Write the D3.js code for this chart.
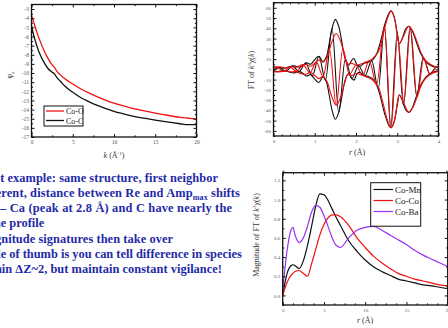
<!DOCTYPE html>
<html>
<head>
<meta charset="utf-8">
<script src="https://cdn.jsdelivr.net/npm/d3@7"></script>
<style>
  html, body { margin: 0; padding: 0; background: #fff; }
  svg { display: block; }
</style>
</head>
<body>
<svg id="chart" width="448" height="328"></svg>
<script>
// ---- panel 1: phase vs k ----
const kVals   = [0, 0.25, 0.5, 0.75, 1, 1.5, 2, 2.5, 2.8, 3, 3.5, 4, 5, 6, 7, 8, 10, 12, 14, 16, 18, 19, 20];
const phaseCoO = [-3.7, -4.4, -5.1, -5.8, -6.4, -7.5, -8.4, -9.1, -9.4, -9.7, -10.2, -10.6, -11.2, -11.75, -12.2, -12.6, -13.3, -13.8, -14.2, -14.55, -14.85, -14.95, -15.05];
const phaseCoC = [-4.8, -5.8, -6.6, -7.3, -7.9, -8.8, -9.5, -9.9, -10.1, -10.4, -10.9, -11.4, -12.1, -12.7, -13.15, -13.55, -14.2, -14.65, -15.0, -15.3, -15.55, -15.65, -15.65];
const phaseNames = ["Co-O", "Co-C"];

// ---- panel 2: FT magnitude envelope and real part ----
const rEnvBlack = [0, 0.12, 0.25, 0.4, 0.5, 0.62, 0.7, 0.8, 0.9, 1.0, 1.1, 1.2, 1.28, 1.35, 1.42, 1.5, 1.58, 1.66, 1.74, 1.82, 1.9, 1.95, 2.03, 2.1, 2.2, 2.3, 2.4, 2.5, 2.6, 2.7, 2.8, 2.85, 2.92, 3.0, 3.05, 3.12, 3.2, 3.28, 3.36, 3.45, 3.55, 3.65, 3.75, 3.85, 3.95, 4.0];
const envBlack  = [2.5, 1.8, 1.2, 2.8, 3.4, 2.2, 3.5, 6.5, 5.0, 9.5, 12.8, 7.5, 12, 25, 40, 48.7, 42, 26, 10, 4, 9, 10.5, 4, 3, 6, 7, 9, 15, 28, 44, 55, 57, 52, 35, 25, 30, 39, 42, 38, 28, 17, 10, 5.5, 3, 2, 2];
const rEnvRed   = [0, 0.15, 0.3, 0.45, 0.55, 0.65, 0.78, 0.9, 1.0, 1.1, 1.2, 1.3, 1.4, 1.52, 1.62, 1.72, 1.8, 1.9, 2.0, 2.1, 2.2, 2.35, 2.45, 2.55, 2.65, 2.75, 2.85, 2.93, 3.0, 3.05, 3.15, 3.28, 3.38, 3.48, 3.58, 3.68, 3.8, 3.9, 4.0];
const envRed    = [2, 2.5, 1.5, 2.5, 2, 4, 4.8, 3, 6, 9, 7, 12, 25, 35, 28, 14, 5, 6, 4, 5, 6.5, 9, 12.4, 18, 32, 48, 57, 50, 33, 25, 32, 42, 37, 27, 16, 9, 5, 3, 2];
const rReBlack  = [0, 0.14, 0.30, 0.46, 0.62, 0.78, 0.94, 1.10, 1.26, 1.42, 1.58, 1.74, 1.90, 2.06, 2.22, 2.38, 2.54, 2.69, 2.84, 3.00, 3.15, 3.31, 3.47, 3.63, 3.79, 3.95, 4.0];
const reBlack   = [-1.5, 1.7, -1.7, 3.2, -2.3, 6.2, -6.8, 12.5, -10.5, 40, -42, 10, -9, 3.5, -6, 8.5, -19, 42, -56.5, 35, -35, 41, -26, 11.5, -4.5, 2, 1];
const rReRed    = [0, 0.08, 0.24, 0.40, 0.56, 0.72, 0.88, 1.04, 1.20, 1.36, 1.52, 1.68, 1.84, 2.00, 2.16, 2.32, 2.50, 2.69, 2.85, 3.01, 3.16, 3.32, 3.48, 3.64, 3.80, 3.96, 4.0];
const reRed     = [-1, 2.2, -1.8, 2.2, -2.0, 4.3, -3.3, 7, -7, 19, -35, 20, -5, 4, -6, 8.5, -15, 42, -57, 33, -32, 40, -27, 10, -5, 2.5, 1.5];

// ---- panel 3: magnitude of FT ----
const rMag  = [0, 0.5, 1, 1.25, 1.5, 2, 2.5, 3, 3.5, 4, 4.5, 5, 5.5, 6, 6.5, 7, 8, 9, 10, 11, 12, 13, 14, 15, 16, 17, 18, 19, 20];
const magCoMn = [0.0, 0.22, 0.31, 0.32, 0.31, 0.28, 0.36, 0.52, 0.72, 0.93, 1.06, 1.05, 0.99, 0.9, 0.81, 0.73, 0.57, 0.46, 0.37, 0.30, 0.25, 0.21, 0.17, 0.15, 0.13, 0.11, 0.10, 0.085, 0.07];
const magCoCo = [0.0, 0.13, 0.21, 0.23, 0.25, 0.26, 0.23, 0.2, 0.33, 0.48, 0.63, 0.74, 0.81, 0.84, 0.84, 0.82, 0.73, 0.6, 0.5, 0.41, 0.34, 0.28, 0.23, 0.2, 0.17, 0.15, 0.13, 0.11, 0.1];
const magCoBa = [0.05, 0.45, 0.68, 0.71, 0.63, 0.55, 0.6, 0.72, 0.87, 0.94, 0.92, 0.83, 0.72, 0.6, 0.52, 0.5, 0.6, 0.68, 0.71, 0.72, 0.68, 0.63, 0.58, 0.53, 0.47, 0.42, 0.38, 0.34, 0.3];
const magNames = ["Co-Mn", "Co-Co", "Co-Ba"];

// ---- slide text (hidden prefix, visible part[, subscript, tail]) ----
const noteLines = [
  ["Last ", "example: same structure, first neighbor"],
  ["diffe", "rent, distance between Re and Amp", "max", " shifts"],
  ["\u2013 ", "Ca (peak at 2.8 \u00C5) and C have nearly the"],
  ["same ", "profile"],
  ["Mag", "nitude signatures then take over"],
  ["Rule ", "of thumb is you can tell difference in species"],
  ["with", "in \u0394Z~2, but maintain constant vigilance!"]
];
const noteStart = [7.3, 0.7, 9.3, 9.3, 1, 9.3, 1.7];
const noteEnd   = [218, 240, 232, 42, 173, 242, 222];

const svg = d3.select("#chart");
svg.append("rect").attr("width", 448).attr("height", 328).attr("fill", "#fff");

const SERIF = "'Liberation Serif', 'Times New Roman', serif";

function frameAxes(g, x, y, o) {
  const [xa, xb] = x.range(), [yb, ya] = y.range();
  const tickFont = sel => sel.selectAll("text")
    .attr("font-size", o.fs || 5.5).attr("font-family", SERIF).attr("fill", "#555");

  const layers = [
    [d3.axisBottom(x).tickValues(o.xTicks).tickSize(-3).tickPadding(3).tickFormat(o.xFmt), `translate(0,${yb})`, true],
    [d3.axisBottom(x).tickValues(o.xMinor).tickSize(-1.6).tickFormat(""), `translate(0,${yb})`],
    [d3.axisTop(x).tickValues(o.xTicks).tickSize(-3).tickFormat(""), `translate(0,${ya})`],
    [d3.axisTop(x).tickValues(o.xMinor).tickSize(-1.6).tickFormat(""), `translate(0,${ya})`],
    [d3.axisLeft(y).tickValues(o.yTicks).tickSize(-3).tickPadding(2.5).tickFormat(o.yFmt), `translate(${xa},0)`, true],
    [d3.axisLeft(y).tickValues(o.yMinor).tickSize(-1.6).tickFormat(""), `translate(${xa},0)`],
    [d3.axisRight(y).tickValues(o.yTicks).tickSize(-3).tickFormat(""), `translate(${xb},0)`],
    [d3.axisRight(y).tickValues(o.yMinor).tickSize(-1.6).tickFormat(""), `translate(${xb},0)`]
  ];
  layers.forEach(([ax, tr, lab]) => {
    const a = g.append("g").attr("transform", tr).call(ax);
    a.select(".domain").remove();
    a.selectAll("line").attr("stroke", "#111").attr("stroke-width", 1);
    if (lab) tickFont(a);
  });
  g.append("rect")
    .attr("x", xa).attr("y", ya).attr("width", xb - xa).attr("height", yb - ya)
    .attr("fill", "none").attr("stroke", "#111").attr("stroke-width", 1.3);
}

function seq(a, b, s) { return d3.range(a, b + s / 2, s).map(v => +v.toFixed(4)); }

// ================= panel 1 =================
const x1 = d3.scaleLinear().domain([0, 20]).range([31.5, 196.5]);
const y1 = d3.scaleLinear().domain([-17, -2.5]).range([137, 4.5]);
const g1 = svg.append("g");

const line1 = vals => d3.line().x((d, i) => x1(kVals[i])).y(d => y1(d)).curve(d3.curveMonotoneX)(vals);
g1.append("path").attr("d", line1(phaseCoC)).attr("fill", "none").attr("stroke", "#111").attr("stroke-width", 1.3);
g1.append("path").attr("d", line1(phaseCoO)).attr("fill", "none").attr("stroke", "#f01010").attr("stroke-width", 1.3);

frameAxes(g1, x1, y1, {
  xTicks: [0, 5, 10, 15, 20], xMinor: [2.5, 7.5, 12.5, 17.5],
  yTicks: seq(-17, -3, 1), yMinor: seq(-16.5, -2.5, 1),
  xFmt: d3.format("d"), yFmt: d => d3.format("d")(d).replace("\u2212", "-")
});

// legend panel 1
const leg1 = g1.append("g");
leg1.append("rect").attr("x", 44).attr("y", 106).attr("width", 39).attr("height", 20)
  .attr("fill", "#fff").attr("stroke", "#111").attr("stroke-width", 1);
[["#f01010", phaseNames[0]], ["#111", phaseNames[1]]].forEach(([c, n], i) => {
  const yy = 111 + i * 9.5;
  leg1.append("line").attr("x1", 46).attr("x2", 64).attr("y1", yy).attr("y2", yy)
    .attr("stroke", c).attr("stroke-width", 1.3);
  leg1.append("text").attr("x", 66).attr("y", yy + 3).attr("font-family", SERIF)
    .attr("font-size", 8).attr("fill", "#222").text(n);
});

// axis labels panel 1
const yl1 = g1.append("text").attr("transform", "translate(12,75) rotate(-90)")
  .attr("text-anchor", "middle").attr("font-family", SERIF).attr("font-size", 8).attr("fill", "#333");
yl1.append("tspan").text("\u03C6");
yl1.append("tspan").attr("font-size", 5).attr("dy", 2).text("a");
const xl1 = g1.append("text").attr("x", 114).attr("y", 158).attr("text-anchor", "middle")
  .attr("font-family", SERIF).attr("font-size", 8).attr("fill", "#333");
xl1.append("tspan").attr("font-style", "italic").text("k");
xl1.append("tspan").text(" (\u00C5");
xl1.append("tspan").attr("font-size", 5).attr("dy", -3).text("-1");
xl1.append("tspan").attr("dy", 3).text(")");

// ================= panel 2 =================
const x2 = d3.scaleLinear().domain([0, 4]).range([273.5, 438.5]);
const y2 = d3.scaleLinear().domain([-65, 65]).range([136, 2.7]);
const g2 = svg.append("g");
svg.append("clipPath").attr("id", "c2").append("rect")
  .attr("x", 273.5).attr("y", 2.7).attr("width", 165).attr("height", 133.3);

function ftPaths(rEnv, env, rRe, re, color) {
  const gp = g2.append("g").attr("clip-path", "url(#c2)");
  const env1 = d3.line().x((d, i) => x2(rEnv[i])).y(d => y2(d)).curve(d3.curveCatmullRom);
  const reL = d3.line().x((d, i) => x2(rRe[i])).y(d => y2(d)).curve(d3.curveMonotoneX);
  [env1(env), env1(env.map(v => -v)), reL(re)].forEach(p =>
    gp.append("path").attr("d", p).attr("fill", "none").attr("stroke", color).attr("stroke-width", 1.1));
}
ftPaths(rEnvBlack, envBlack, rReBlack, reBlack, "#111");
ftPaths(rEnvRed, envRed, rReRed, reRed, "#f01010");

frameAxes(g2, x2, y2, {
  xTicks: [0, 1, 2, 3, 4], xMinor: seq(0.2, 3.8, 0.2).filter(v => Math.abs(v - Math.round(v)) > 0.01),
  yTicks: seq(-60, 60, 10), yMinor: seq(-65, 65, 10),
  xFmt: d3.format("d"), yFmt: d => d3.format("d")(d).replace("\u2212", "-"), fs: 5
});

const yl2 = g2.append("text").attr("transform", "translate(254,70) rotate(-90)")
  .attr("text-anchor", "middle").attr("font-family", SERIF).attr("font-size", 8).attr("fill", "#333");
yl2.append("tspan").text("FT of ");
yl2.append("tspan").attr("font-style", "italic").text("k");
yl2.append("tspan").attr("font-size", 5).attr("dy", -3).text("3");
yl2.append("tspan").attr("dy", 3).text("\u03C7(");
yl2.append("tspan").attr("font-style", "italic").text("k");
yl2.append("tspan").text(")");
const xl2 = g2.append("text").attr("x", 357).attr("y", 155).attr("text-anchor", "middle")
  .attr("font-family", SERIF).attr("font-size", 8).attr("fill", "#333");
xl2.append("tspan").attr("font-style", "italic").text("r");
xl2.append("tspan").text(" (\u00C5)");

// ================= panel 3 =================
const x3 = d3.scaleLinear().domain([0, 20]).range([282.7, 447.7]);
const y3 = d3.scaleLinear().domain([-0.1, 1.28]).range([305, 172.7]);
const g3 = svg.append("g");
const magColors = ["#111", "#f01010", "#9b30f2"];
[magCoMn, magCoCo, magCoBa].forEach((vals, si) => {
  g3.append("path")
    .attr("d", d3.line().x((d, i) => x3(rMag[i])).y(d => y3(d)).curve(d3.curveMonotoneX)(vals))
    .attr("fill", "none").attr("stroke", magColors[si]).attr("stroke-width", 1.2);
});

frameAxes(g3, x3, y3, {
  xTicks: [0, 5, 10, 15, 20], xMinor: [1.25, 2.5, 3.75, 6.25, 7.5, 8.75, 11.25, 12.5, 13.75, 16.25, 17.5, 18.75],
  yTicks: seq(0, 1.2, 0.2), yMinor: seq(-0.1, 1.25, 0.2),
  xFmt: d3.format("d"), yFmt: d3.format(".1f"), fs: 5
});

const leg3 = g3.append("g");
leg3.append("rect").attr("x", 370.7).attr("y", 182.7).attr("width", 50).attr("height", 43.5)
  .attr("fill", "#fff").attr("stroke", "#111").attr("stroke-width", 1);
magNames.forEach((n, i) => {
  const yy = 189.5 + i * 11;
  leg3.append("line").attr("x1", 373.5).attr("x2", 393).attr("y1", yy).attr("y2", yy)
    .attr("stroke", magColors[i]).attr("stroke-width", 1.2);
  leg3.append("text").attr("x", 395).attr("y", yy + 3.2).attr("font-family", SERIF)
    .attr("font-size", 9).attr("fill", "#222").text(n);
});

const yl3 = g3.append("text").attr("transform", "translate(259,235) rotate(-90)")
  .attr("text-anchor", "middle").attr("font-family", SERIF).attr("font-size", 8).attr("fill", "#333");
yl3.append("tspan").text("Magnitude of FT of ");
yl3.append("tspan").attr("font-style", "italic").text("k");
yl3.append("tspan").attr("font-size", 5).attr("dy", -3).text("3");
yl3.append("tspan").attr("dy", 3).text("\u03C7(");
yl3.append("tspan").attr("font-style", "italic").text("k");
yl3.append("tspan").text(")");
const xl3 = g3.append("text").attr("x", 365).attr("y", 323).attr("text-anchor", "middle")
  .attr("font-family", SERIF).attr("font-size", 8).attr("fill", "#333");
xl3.append("tspan").attr("font-style", "italic").text("r");
xl3.append("tspan").text(" (\u00C5)");

// ================= slide text =================
const gt = svg.append("g").attr("font-family", SERIF).attr("font-weight", "bold")
  .attr("font-size", 12.4).attr("fill", "#1f2aa8");
noteLines.forEach((parts, i) => {
  const t = gt.append("text").attr("y", 181.5 + i * 15.3);
  t.append("tspan").text(parts[0]);
  t.append("tspan").text(parts[1]);
  if (parts.length > 2) {
    t.append("tspan").attr("font-size", 8).attr("dy", 3).text(parts[2]);
    t.append("tspan").attr("dy", -3).text(parts[3]);
  }
  // stretch spacing a little so the visible part spans the same width as on the slide
  const n = t.node();
  const pre = parts[0].length;
  const vis = n.getComputedTextLength() - n.getSubStringLength(0, pre);
  const want = noteEnd[i] - noteStart[i];
  if (want > vis + 0.5) {
    t.attr("textLength", n.getComputedTextLength() + (want - vis)).attr("lengthAdjust", "spacing");
  }
  t.attr("x", noteStart[i] - n.getSubStringLength(0, pre));
});
</script>
</body>
</html>
